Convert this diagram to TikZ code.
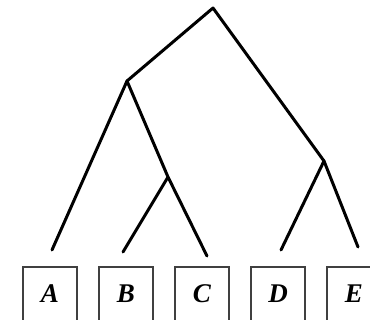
\documentclass[tikz,border=0pt]{standalone}
\usepackage{fontspec}
\setmainfont{Liberation Serif}
\tikzset{
  branch/.style={line width=3pt, line cap=round, line join=round},
  leafbox/.style={draw=black!75, line width=1.4pt, minimum size=54pt, inner sep=0pt,
    font=\fontsize{27}{27}\selectfont\bfseries\itshape}
}
\begin{document}
\begin{tikzpicture}[x=1pt,y=-1pt]
\useasboundingbox[clip] (0,0) rectangle (370,320);

% inner points of the tree
\coordinate (root) at (213,8);
\coordinate (ab) at (127,81);
\coordinate (bc) at (168,177);
\coordinate (de) at (324,161);

% free ends above the boxes
\coordinate (ea) at (52,250);
\coordinate (eb) at (123,252);
\coordinate (ec) at (207,256);
\coordinate (ed) at (281,250);
\coordinate (ee) at (358,247);

\node[leafbox] (A) at (50,294) {A};
\node[leafbox] (B) at (126,294) {B};
\node[leafbox] (C) at (202,294) {C};
\node[leafbox] (D) at (278,294) {D};
\node[leafbox] (E) at (354,294) {E};

\draw[branch] (ea) -- (ab) -- (root) -- (de) -- (ee);
\draw[branch] (ab) -- (bc) -- (ec);
\draw[branch] (bc) -- (eb);
\draw[branch] (de) -- (ed);
\end{tikzpicture}
\end{document}
